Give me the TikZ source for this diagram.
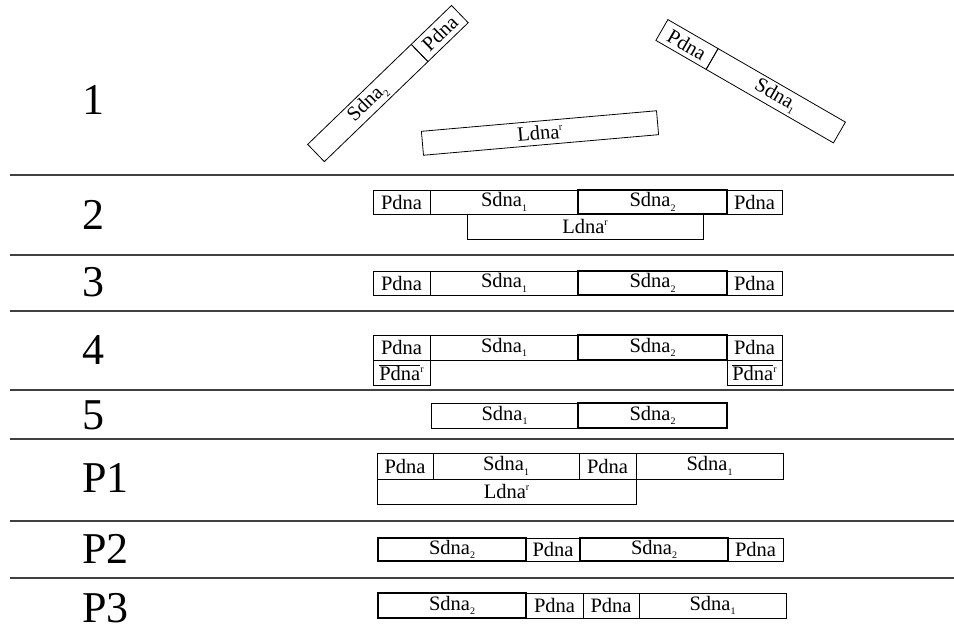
\documentclass[tikz,border=0pt]{standalone}
\usepackage{fontspec}
\setmainfont{Liberation Serif}
\newcommand\mysbs[1]{\raisebox{-0.5ex}{\fontsize{10}{10}\selectfont #1}}
\newcommand\mysps[1]{\raisebox{0.85ex}{\fontsize{10}{10}\selectfont #1}}
\newcommand\mySa{Sdna\mysbs{1}}
\newcommand\mySb{Sdna\mysbs{2}}
\newcommand\myLr{Ldna\mysps{r}}
\newcommand\myPr{$\overline{\mbox{Pdna}}$\mysps{r}}
\begin{document}
\begin{tikzpicture}[x=1pt,y=-1pt,
  seg/.style={draw, line width=0.8pt, inner sep=0pt, outer sep=0pt, minimum height=24pt, anchor=north west, font=\fontsize{20.5}{20.5}\selectfont},
  rseg/.style={draw, line width=0.8pt, inner sep=0pt, outer sep=0pt, minimum height=24pt, font=\fontsize{20.5}{20.5}\selectfont},
  thk/.style={line width=1.4pt},
  big/.style={anchor=base west, inner sep=0pt, font=\fontsize{44}{44}\selectfont},
  sep/.style={draw=black!75, line width=1.3pt}]
\useasboundingbox (0,0) rectangle (954,628);
% separator lines
\foreach \yy in {175,255,311,390,439,521,578}
  \draw[sep] (10,\yy) -- (954,\yy);
% row labels
\node[big] (l1) at (82,115) {1};
\node[big] (l2) at (82,230) {2};
\node[big] (l3) at (82,297) {3};
\node[big] (l4) at (82,365) {4};
\node[big] (l5) at (82,430) {5};
\node[big] (l6) at (82,493) {P1};
\node[big] (l7) at (82,563) {P2};
\node[big] (l8) at (82,622) {P3};
% row 1 (rotated pieces)
\node[rseg, rotate=44, minimum width=144pt, minimum height=24pt] (a1) at (367.8,103) {\mySb};
\node[rseg, rotate=44, minimum width=56pt, minimum height=24pt, anchor=west] (a2) at (a1.east) {Pdna};
\node[rseg, rotate=-30, minimum width=58pt, minimum height=24pt] (b1) at (687,44.5) {Pdna};
\node[rseg, rotate=-30, minimum width=147pt, minimum height=24pt, anchor=west] (b2) at (b1.east) {\mySa};
\node[rseg, rotate=5, minimum width=236pt, minimum height=24pt] (c1) at (540,133) {\myLr};
% row 2
\node[seg, minimum width=57pt] (r2a) at (373,190) {Pdna};
\node[seg, minimum width=148pt] (r2b) at (r2a.north east) {\mySa};
\node[seg, thk, minimum width=149pt] (r2c) at (r2b.north east) {\mySb};
\node[seg, minimum width=55pt] (r2d) at (r2c.north east) {Pdna};
\node[seg, minimum width=236pt, minimum height=25pt] (r2e) at (467,214) {\myLr};
% row 3
\node[seg, minimum width=57pt] (r3a) at (373,271) {Pdna};
\node[seg, minimum width=148pt] (r3b) at (r3a.north east) {\mySa};
\node[seg, thk, minimum width=149pt] (r3c) at (r3b.north east) {\mySb};
\node[seg, minimum width=55pt] (r3d) at (r3c.north east) {Pdna};
% row 4
\node[seg, minimum width=57pt, minimum height=25pt] (r4a) at (373,335) {Pdna};
\node[seg, minimum width=148pt, minimum height=25pt] (r4b) at (r4a.north east) {\mySa};
\node[seg, thk, minimum width=149pt, minimum height=25pt] (r4c) at (r4b.north east) {\mySb};
\node[seg, minimum width=55pt, minimum height=25pt] (r4d) at (r4c.north east) {Pdna};
\node[seg, minimum width=57pt, minimum height=25pt] (r4e) at (r4a.south west) {\myPr};
\node[seg, minimum width=55pt, minimum height=25pt] (r4f) at (r4d.south west) {\myPr};
% row 5
\node[seg, minimum width=147pt, minimum height=25pt] (r5a) at (431,403) {\mySa};
\node[seg, thk, minimum width=149pt, minimum height=25pt] (r5b) at (r5a.north east) {\mySb};
% row P1
\node[seg, minimum width=56pt, minimum height=26pt] (p1a) at (377,453) {Pdna};
\node[seg, minimum width=146pt, minimum height=26pt] (p1b) at (p1a.north east) {\mySa};
\node[seg, minimum width=57pt, minimum height=26pt] (p1c) at (p1b.north east) {Pdna};
\node[seg, minimum width=147pt, minimum height=26pt] (p1d) at (p1c.north east) {\mySa};
\node[seg, minimum width=259pt, minimum height=25pt] (p1e) at (p1a.south west) {\myLr};
% row P2
\node[seg, thk, minimum width=148pt, minimum height=23pt] (p2a) at (378,538) {\mySb};
\node[seg, minimum width=54pt, minimum height=23pt] (p2b) at (p2a.north east) {Pdna};
\node[seg, thk, minimum width=148pt, minimum height=23pt] (p2c) at (p2b.north east) {\mySb};
\node[seg, minimum width=55pt, minimum height=23pt] (p2d) at (p2c.north east) {Pdna};
% row P3
\node[seg, thk, minimum width=148pt, minimum height=25pt] (p3a) at (378,593) {\mySb};
\node[seg, minimum width=57pt, minimum height=25pt] (p3b) at (p3a.north east) {Pdna};
\node[seg, minimum width=56pt, minimum height=25pt] (p3c) at (p3b.north east) {Pdna};
\node[seg, minimum width=147pt, minimum height=25pt] (p3d) at (p3c.north east) {\mySa};
\end{tikzpicture}
\end{document}
